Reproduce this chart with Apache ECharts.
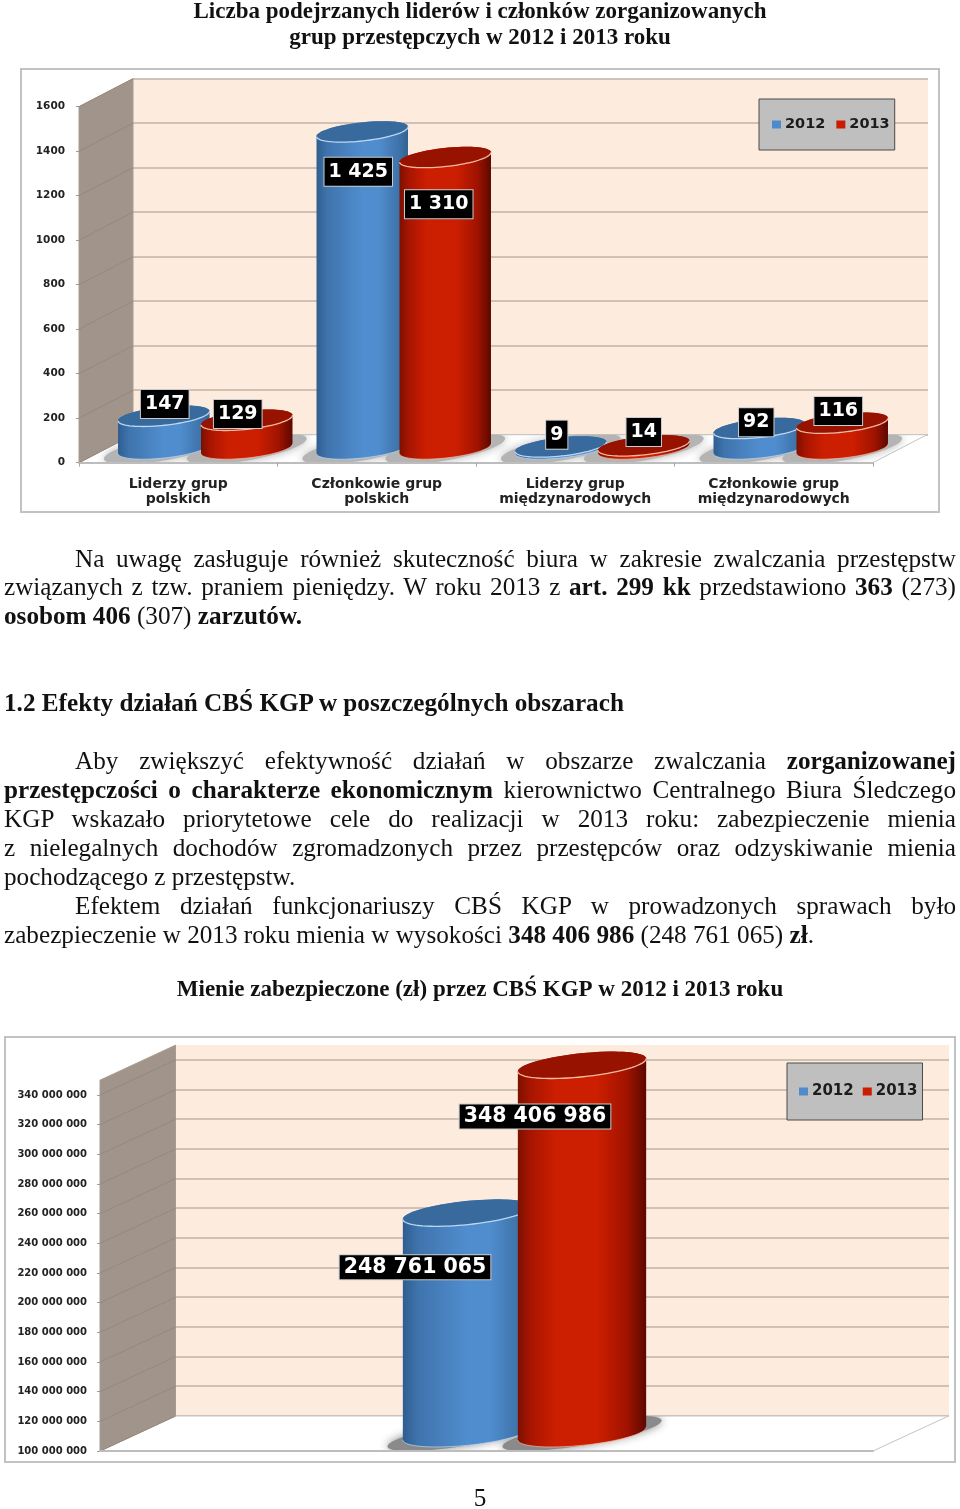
<!DOCTYPE html>
<html lang="pl">
<head>
<meta charset="utf-8">
<title>Liczba podejrzanych</title>
<script src="https://cdn.jsdelivr.net/npm/echarts@6/dist/echarts.min.js"></script>
<style>
html,body{margin:0;padding:0;background:#fff;}
#chart{position:absolute;left:0;top:0;width:960px;height:1509px;}
.ln{position:absolute;left:4px;width:952px;height:29px;line-height:29px;font-family:"Liberation Serif",serif;font-size:25.2px;color:#111;white-space:nowrap;}
.j{text-align:justify;text-align-last:justify;}
.i{left:75px;width:881px;}
.c{left:0;width:960px;text-align:center;}
.fill{white-space:normal;}
</style>
</head>
<body>
<div id="chart"></div>
<div class="ln i j fill" style="top:544px">Na uwagę zasługuje również skuteczność biura w zakresie zwalczania przestępstw</div>
<div class="ln j fill" style="top:572px">związanych z tzw. praniem pieniędzy. W roku 2013 z <b>art. 299 kk</b> przedstawiono <b>363</b> (273)</div>
<div class="ln" style="top:601px"><b>osobom 406</b> (307) <b>zarzutów.</b></div>
<div class="ln" style="top:688px"><b>1.2 Efekty działań CBŚ KGP w poszczególnych obszarach</b></div>
<div class="ln i j fill" style="top:746px">Aby zwiększyć efektywność działań w obszarze zwalczania <b>zorganizowanej</b></div>
<div class="ln j fill" style="top:775px"><b>przestępczości o charakterze ekonomicznym</b> kierownictwo Centralnego Biura Śledczego</div>
<div class="ln j fill" style="top:804px">KGP wskazało priorytetowe cele do realizacji w 2013 roku: zabezpieczenie mienia</div>
<div class="ln j fill" style="top:833px">z&nbsp;nielegalnych dochodów zgromadzonych przez przestępców oraz odzyskiwanie mienia</div>
<div class="ln" style="top:862px">pochodzącego z przestępstw.</div>
<div class="ln i j fill" style="top:891px">Efektem działań funkcjonariuszy CBŚ KGP w prowadzonych sprawach było</div>
<div class="ln" style="top:920px">zabezpieczenie w 2013 roku mienia w wysokości <b>348 406 986</b> (248 761 065) <b>zł</b>.</div>
<div class="ln c" style="top:1483px">5</div>
<script>
// ---- data ----
const seriesNames = ['2012', '2013'];
const titleTop = 'Liczba podejrzanych liderów i członków zorganizowanych\ngrup przestępczych w 2012 i 2013 roku';
const titleBottom = 'Mienie zabezpieczone (zł) przez CBŚ KGP w 2012 i 2013 roku';

const groupCategories = ['Liderzy grup\npolskich', 'Członkowie grup\npolskich', 'Liderzy grup\nmiędzynarodowych', 'Członkowie grup\nmiędzynarodowych'];
const groups2012 = [147, 1425, 9, 92];
const groups2013 = [129, 1310, 14, 116];

const assetCategories = ['Mienie'];
const assets2012 = [248761065];
const assets2013 = [348406986];

// ---- layout and styling, separate from the data ----
const BLUE = {
  main: '#4f8aca', top: '#386a9e', rim: '#bcd8f2',
  stops: [[0, '#2f5e90'], [0.12, '#3f74ad'], [0.5, '#508dce'], [0.68, '#508dce'], [0.92, '#3d70a6'], [1, '#33608f']]
};
const RED = {
  main: '#c91c00', top: '#981200', rim: '#f6b9a2',
  stops: [[0, '#7c1000'], [0.1, '#a81500'], [0.3, '#cc1e00'], [0.62, '#cc1e00'], [0.85, '#a01300'], [1, '#5c0800']]
};
const PAL = [BLUE, RED];
const FONT = '"DejaVu Sans"';
const CHARTS = [
  {
    name: 'groups', cats: groupCategories, vals: [groups2012, groups2013],
    rect: { left: 79, top: 106.7, width: 794, height: 356 },
    back: { left: 133, top: 78.7, width: 795, height: 356 },
    min: 0, max: 1600, step: 200, wallTop: 1600,
    depth: [54, -28], mid: [27, -14], off: 41.5, rx: 46, ry: 9.3, tilt: -6.2,
    shadow: { rx: 1.32, ry: 1.25, color: '#b4b4b4', blur: 10 }, labelSize: 19, pad: [6, 4, 3, 4],
    labelOffsets: [[[1, -12], [-4, 40], [-4, -12], [-3, -6]], [[-9, -6], [-6.5, 47], [0, -13.6], [-4, -12]]],
    frame: [21, 69, 918, 443],
    legend: { left: 759, top: 99, padding: [18, 5, 18, 13], itemGap: 11, size: 14.5 },
    labelMargin: 14, tickSize: 10.5
  },
  {
    name: 'assets', cats: assetCategories, vals: [assets2012, assets2013],
    rect: { left: 100, top: 1095, width: 773, height: 356 },
    back: { left: 175.5, top: 1045, width: 773.5, height: 370.8 },
    min: 100000000, max: 340000000, backMax: 350000000, step: 20000000, wallTop: 350000000,
    depth: [75.5, -35], mid: [38, -17.5], off: 57.5, rx: 64.5, ry: 11.8, tilt: -5.9,
    shadow: { rx: 1.25, ry: 1, color: '#8a8a8a', blur: 10 }, labelSize: 20.5, pad: [3, 4, 0, 4],
    labelOffsets: [[[-52, 54.5]], [[-47, 51.5]]],
    frame: [5, 1037, 950, 425],
    legend: { left: 787, top: 1063, padding: [21, 5, 21, 12], itemGap: 9, size: 15 },
    labelMargin: 13, tickSize: 10
  }
];

function spaced(v) { return String(v).replace(/\B(?=(\d{3})+(?!\d))/g, ' '); }

function ellipsePts(c, a, b, deg, from, to, n) {
  const th = deg * Math.PI / 180, out = [];
  for (let i = 0; i <= n; i++) {
    const t = from + (to - from) * i / n;
    out.push([
      c[0] + a * Math.cos(t) * Math.cos(th) - b * Math.sin(t) * Math.sin(th),
      c[1] + a * Math.cos(t) * Math.sin(th) + b * Math.sin(t) * Math.cos(th)
    ]);
  }
  return out;
}
function grad(stops) {
  return { type: 'linear', x: 0, y: 0, x2: 1, y2: 0, colorStops: stops.map(s => ({ offset: s[0], color: s[1] })) };
}

const grid = [], xAxis = [], yAxis = [], series = [], legend = [], graphicEls = [];

CHARTS.forEach((c, ci) => {
  const backIdx = ci * 2, frontIdx = ci * 2 + 1;
  // back wall: library grid, split lines
  grid.push({ left: c.back.left, top: c.back.top, width: c.back.width, height: c.back.height, show: true, backgroundColor: '#fdebdd', borderWidth: 0, z: 0 });
  xAxis.push({ type: 'category', gridIndex: backIdx, data: c.cats, show: false });
  yAxis.push({
    type: 'value', gridIndex: backIdx, min: c.min, max: c.backMax || c.max, interval: c.step,
    axisLabel: { show: false }, axisTick: { show: false }, axisLine: { show: false },
    splitLine: { show: true, showMaxLine: ci === 0, lineStyle: { color: '#bfb3a6', width: 1.6 } }
  });
  // front plane: library grid carrying the ticks, labels and data scale
  grid.push({ left: c.rect.left, top: c.rect.top, width: c.rect.width, height: c.rect.height, show: false });
  xAxis.push({
    type: 'category', gridIndex: frontIdx, data: c.cats, z: 6,
    axisLine: { show: true, lineStyle: { color: '#bdbdbd', width: 2 } },
    axisTick: { show: ci === 0, length: 4, lineStyle: { color: '#a8a8a8' } },
    axisLabel: { show: ci === 0, margin: 14, interval: 0, fontFamily: FONT, fontWeight: 'bold', fontSize: 14, lineHeight: 15, color: '#222' },
    splitLine: { show: false }
  });
  yAxis.push({
    type: 'value', gridIndex: frontIdx, min: c.min, max: c.max, interval: c.step,
    axisLine: { show: false },
    axisTick: { show: true, length: 3, lineStyle: { color: '#a09a92' } },
    axisLabel: {
      margin: c.labelMargin, fontFamily: FONT, fontWeight: 'bold', fontSize: c.tickSize, color: '#222', padding: [2, 0, 0, 0],
      formatter: v => ci === 0 ? String(v) : spaced(v)
    },
    splitLine: { show: false }
  });

  const floorPts = (api, cs) => {
    const y0 = api.coord([0, c.min])[1];
    return [[cs.x, y0], [cs.x + cs.width, y0], [cs.x + cs.width + c.depth[0], y0 + c.depth[1]], [cs.x + c.depth[0], y0 + c.depth[1]]];
  };

  // side wall and floor, positioned from the front axis scale
  const ticks = [];
  for (let v = c.min; v <= c.max; v += c.step) ticks.push(v);
  series.push({
    type: 'custom', name: 'wall' + ci, xAxisIndex: frontIdx, yAxisIndex: frontIdx, z: 1, silent: true,
    data: [[0, c.min]], clip: false, tooltip: { show: false },
    renderItem(params, api) {
      const cs = params.coordSys, x = cs.x, dx = c.depth[0], dy = c.depth[1];
      const y0 = api.coord([0, c.min])[1], yT = api.coord([0, c.wallTop])[1];
      const kids = [
        { type: 'polygon', shape: { points: floorPts(api, cs) }, style: { fill: '#ffffff', stroke: '#c4c4c4', lineWidth: 1 } },
        { type: 'polygon', shape: { points: [[x, yT], [x + dx, yT + dy], [x + dx, y0 + dy], [x, y0]] }, style: { fill: '#a1958b', stroke: '#a79c92', lineWidth: 1 } }
      ];
      ticks.forEach(v => {
        const y = api.coord([0, v])[1];
        kids.push({ type: 'line', shape: { x1: x, y1: y, x2: x + dx, y2: y + dy }, style: { stroke: '#94897e', lineWidth: 1 } });
      });
      return { type: 'group', children: kids };
    }
  });

  // floor shadows under each cylinder
  series.push({
    type: 'custom', name: 'shadow' + ci, xAxisIndex: frontIdx, yAxisIndex: frontIdx, z: 2, silent: true,
    data: c.cats.map((_, i) => [i, c.min]), clip: false,
    renderItem(params, api) {
      const cs = params.coordSys, i = api.value(0), base = api.coord([i, c.min]);
      const kids = [];
      [-1, 1].forEach(side => {
        const ctr = [base[0] + c.mid[0] + side * c.off, base[1] + c.mid[1]];
        const pts = ellipsePts(ctr, c.rx * c.shadow.rx, c.ry * c.shadow.ry, c.tilt * 1.6, 0, Math.PI * 2, 48);
        kids.push({ type: 'polygon', shape: { points: pts }, style: { fill: c.shadow.color, shadowBlur: c.shadow.blur, shadowColor: c.shadow.color } });
      });
      return { type: 'group', children: kids, clipPath: { type: 'polygon', shape: { points: floorPts(api, cs) } } };
    }
  });

  // cylinders
  c.vals.forEach((vals, si) => {
    const side = si === 0 ? -1 : 1, pal = PAL[si];
    series.push({
      type: 'custom', name: seriesNames[si], xAxisIndex: frontIdx, yAxisIndex: frontIdx, z: 3 + si, clip: false,
      itemStyle: { color: pal.main },
      data: vals.map((v, i) => [i, v]),
      encode: { x: 0, y: 1 },
      renderItem(params, api) {
        const i = api.value(0), top = api.coord([i, api.value(1)]), base = api.coord([i, c.min]);
        const cx = top[0] + c.mid[0] + side * c.off;
        const ct = [cx, top[1] + c.mid[1]], cb = [cx, base[1] + c.mid[1]];
        const lower = ellipsePts(cb, c.rx, c.ry, c.tilt, 0, Math.PI, 40);
        const upper = ellipsePts(ct, c.rx, c.ry, c.tilt, Math.PI, 2 * Math.PI, 40);
        const rim = ellipsePts(ct, c.rx, c.ry, c.tilt, 0, Math.PI, 40);
        const full = ellipsePts(ct, c.rx, c.ry, c.tilt, 0, 2 * Math.PI, 60);
        return {
          type: 'group', children: [
            { type: 'polygon', shape: { points: lower.concat(upper) }, style: { fill: grad(pal.stops) } },
            { type: 'polyline', shape: { points: lower }, style: { stroke: pal.rim, lineWidth: 1, fill: null, opacity: 0.7 } },
            { type: 'polygon', shape: { points: full }, style: { fill: pal.top } },
            { type: 'polyline', shape: { points: rim }, style: { stroke: pal.rim, lineWidth: 1.3, fill: null } }
          ]
        };
      }
    });
  });

  // value labels
  c.vals.forEach((vals, si) => {
    const side = si === 0 ? -1 : 1;
    series.push({
      type: 'custom', name: 'labels' + ci + si, xAxisIndex: frontIdx, yAxisIndex: frontIdx, z: 8, clip: false, silent: true,
      data: vals.map((v, i) => [i, v]), encode: { x: 0, y: 1 },
      renderItem(params, api) {
        const i = api.value(0), v = api.value(1), top = api.coord([i, v]), o = c.labelOffsets[si][i];
        return {
          type: 'text', z2: 20,
          style: {
            text: spaced(v), x: top[0] + c.mid[0] + side * c.off + o[0], y: top[1] + c.mid[1] + o[1],
            align: 'center', verticalAlign: 'middle', fill: '#fff',
            font: 'bold ' + c.labelSize + 'px ' + FONT, backgroundColor: '#000',
            padding: c.pad, borderColor: '#c8ccd0', borderWidth: 1
          }
        };
      }
    });
  });

  legend.push({
    data: seriesNames, left: c.legend.left, top: c.legend.top, orient: 'horizontal', selectedMode: false,
    backgroundColor: '#bfbfbf', borderColor: '#4a4a4a', borderWidth: 1, borderRadius: 0,
    padding: c.legend.padding, itemGap: c.legend.itemGap, itemWidth: 9, itemHeight: 8, icon: 'rect',
    textStyle: { fontFamily: FONT, fontWeight: 'bold', fontSize: c.legend.size, color: '#1c1c1c', padding: [0, 0, 0, -1] }, z: 9
  });

  graphicEls.push({
    type: 'rect', silent: true, z: -1, shape: { x: c.frame[0], y: c.frame[1], width: c.frame[2], height: c.frame[3] },
    style: { fill: '#fff', stroke: '#c2c2c2', lineWidth: 2 }
  });
});

const chart = echarts.init(document.getElementById('chart'));
chart.setOption({
  animation: false,
  backgroundColor: '#fff',
  title: [
    { text: titleTop, left: 'center', top: -6, textStyle: { fontFamily: '"Liberation Serif"', fontWeight: 'bold', fontSize: 23, lineHeight: 26, color: '#111' } },
    { text: titleBottom, left: 'center', top: 971, textStyle: { fontFamily: '"Liberation Serif"', fontWeight: 'bold', fontSize: 23, lineHeight: 29, color: '#111' } }
  ],
  grid, xAxis, yAxis, series, legend,
  graphic: { elements: graphicEls }
});
</script>
</body>
</html>
